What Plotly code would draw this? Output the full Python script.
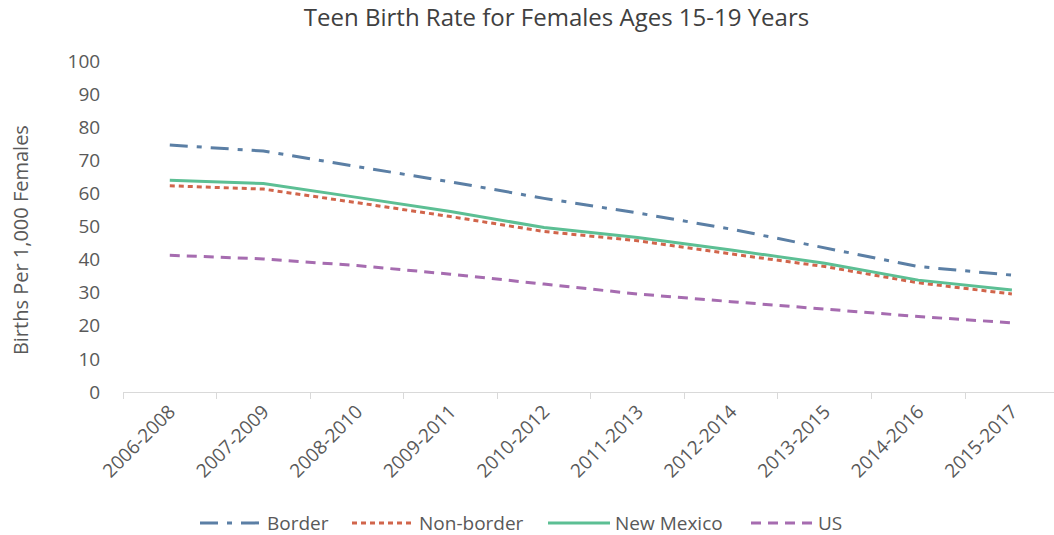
import plotly.graph_objects as go

categories = ["2006-2008", "2007-2009", "2008-2010", "2009-2011", "2010-2012",
              "2011-2013", "2012-2014", "2013-2015", "2014-2016", "2015-2017"]
border = [74.6, 72.8, 68.1, 63.5, 58.5, 54.1, 49.2, 43.5, 37.9, 35.3]
non_border = [62.3, 61.3, 57.2, 53.0, 48.5, 45.7, 41.7, 37.9, 33.0, 29.6]
new_mexico = [64.0, 63.0, 58.8, 54.5, 49.7, 46.7, 42.9, 38.9, 33.8, 30.8]
us = [41.3, 40.2, 38.2, 35.6, 32.6, 29.6, 27.3, 25.0, 22.8, 20.9]
y_ticks = [0, 10, 20, 30, 40, 50, 60, 70, 80, 90, 100]

FONT = "Open Sans"
TXT = "#595959"
PLOT_L, PLOT_W = 123, 931

fig = go.Figure()
fig.add_trace(go.Scatter(x=categories, y=border, name="Border", mode="lines", legend="legend",
                         line=dict(color="#5B7FA5", width=3, dash="18px,9px,5px,9px")))
fig.add_trace(go.Scatter(x=categories, y=non_border, name="Non-border", mode="lines", legend="legend2",
                         line=dict(color="#D1654B", width=3, dash="5px,4px")))
fig.add_trace(go.Scatter(x=categories, y=new_mexico, name="New Mexico", mode="lines", legend="legend3",
                         line=dict(color="#5CBF94", width=3)))
fig.add_trace(go.Scatter(x=categories, y=us, name="US", mode="lines", legend="legend4",
                         line=dict(color="#A66CB0", width=3, dash="10px,7px")))


def leg(px):
    return dict(orientation="h", x=(px - 8 - PLOT_L) / PLOT_W, xanchor="left",
                y=-0.396, yanchor="middle", itemwidth=62,
                font=dict(family=FONT, size=19, color=TXT), bgcolor="rgba(0,0,0,0)")


fig.update_layout(
    width=1054, height=535,
    margin=dict(l=PLOT_L, r=0, t=61, b=143, autoexpand=False),
    paper_bgcolor="white", plot_bgcolor="white",
    font=dict(family=FONT, color=TXT, size=19),
    title=dict(text="Teen Birth Rate for Females Ages 15-19 Years",
               x=0.528, xanchor="center", y=0.967, yanchor="middle",
               font=dict(family=FONT, size=24, color="#404040")),
    showlegend=True,
    legend=leg(203), legend2=leg(355), legend3=leg(551), legend4=leg(754),
    xaxis=dict(type="category", range=[-0.5, 9.45], showgrid=False,
               showline=True, linecolor="#D9D9D9", linewidth=1,
               ticks="outside", tickson="boundaries", ticklen=6, tickcolor="#D9D9D9",
               tickangle=-45, tickfont=dict(family=FONT, size=19, color=TXT)),
    yaxis=dict(range=[0, 100], tickvals=y_ticks, showgrid=False, zeroline=False,
               showline=False, ticks="outside", ticklen=18, tickcolor="rgba(0,0,0,0)",
               tickfont=dict(family=FONT, size=19, color=TXT)),
    annotations=[dict(text="Births Per 1,000 Females", textangle=-90,
                      xref="paper", yref="paper", x=-0.1106, y=0.459,
                      xanchor="center", yanchor="middle", showarrow=False,
                      font=dict(family=FONT, size=20, color=TXT))],
)

fig.write_html("out.html", config={"displayModeBar": False},
               post_script="document.body.style.margin='0';")
